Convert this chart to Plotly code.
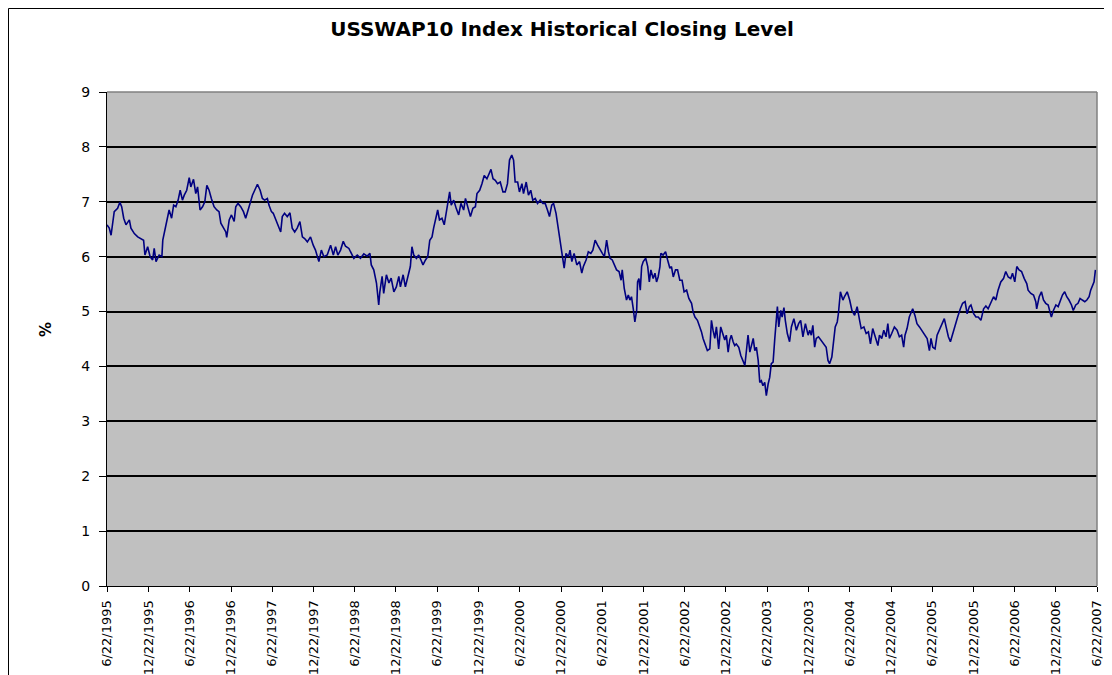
import plotly.graph_objects as go

chart_title = "USSWAP10 Index Historical Closing Level"
y_title = "%"

dates = [
    "1995-06-22", "1995-07-02", "1995-07-10", "1995-07-17", "1995-07-24", "1995-08-08", "1995-08-18", "1995-08-26",
    "1995-09-04", "1995-09-14", "1995-09-29", "1995-10-06", "1995-10-21", "1995-11-05", "1995-11-19", "1995-12-01",
    "1995-12-07", "1995-12-19", "1995-12-30", "1996-01-10", "1996-01-17", "1996-01-25", "1996-02-08", "1996-02-20",
    "1996-02-24", "1996-03-06", "1996-03-16", "1996-03-23", "1996-04-03", "1996-04-12", "1996-04-22", "1996-05-02",
    "1996-05-11", "1996-05-21", "1996-05-29", "1996-06-09", "1996-06-20", "1996-06-27", "1996-07-09", "1996-07-19",
    "1996-07-27", "1996-08-03", "1996-08-07", "1996-08-18", "1996-08-28", "1996-09-06", "1996-09-16", "1996-09-26",
    "1996-10-08", "1996-10-20", "1996-10-30", "1996-11-07", "1996-11-18", "1996-11-29", "1996-12-03", "1996-12-14",
    "1996-12-24", "1997-01-05", "1997-01-12", "1997-01-22", "1997-02-03", "1997-02-15", "1997-02-25", "1997-03-05",
    "1997-03-16", "1997-03-27", "1997-04-06", "1997-04-18", "1997-04-30", "1997-05-10", "1997-05-20", "1997-06-01",
    "1997-06-08", "1997-06-19", "1997-06-27", "1997-07-08", "1997-07-18", "1997-07-30", "1997-08-06", "1997-08-16",
    "1997-08-28", "1997-09-09", "1997-09-19", "1997-09-30", "1997-10-11", "1997-10-23", "1997-11-03", "1997-11-13",
    "1997-11-25", "1997-12-09", "1997-12-21", "1997-12-31", "1998-01-15", "1998-01-26", "1998-02-06", "1998-02-21",
    "1998-03-08", "1998-03-20", "1998-03-30", "1998-04-09", "1998-04-21", "1998-05-03", "1998-05-13", "1998-05-28",
    "1998-06-04", "1998-06-19", "1998-07-04", "1998-07-18", "1998-08-02", "1998-08-17", "1998-08-29", "1998-09-04",
    "1998-09-15", "1998-09-27", "1998-10-07", "1998-10-12", "1998-10-22", "1998-10-29", "1998-11-10", "1998-11-21",
    "1998-12-01", "1998-12-13", "1998-12-24", "1999-01-04", "1999-01-11", "1999-01-23", "1999-02-02", "1999-02-12",
    "1999-02-24", "1999-03-03", "1999-03-11", "1999-03-23", "1999-04-02", "1999-04-12", "1999-04-21", "1999-05-02",
    "1999-05-12", "1999-05-21", "1999-05-31", "1999-06-07", "1999-06-16", "1999-06-25", "1999-07-03", "1999-07-14",
    "1999-07-24", "1999-08-05", "1999-08-17", "1999-08-24", "1999-09-04", "1999-09-15", "1999-09-26", "1999-10-06",
    "1999-10-18", "1999-10-26", "1999-11-05", "1999-11-17", "1999-11-28", "1999-12-09", "1999-12-16", "1999-12-28",
    "2000-01-07", "2000-01-17", "2000-01-29", "2000-02-10", "2000-02-16", "2000-02-25", "2000-03-06", "2000-03-16",
    "2000-03-28", "2000-04-09", "2000-04-19", "2000-04-29", "2000-05-08", "2000-05-18", "2000-05-26", "2000-06-02",
    "2000-06-13", "2000-06-21", "2000-07-02", "2000-07-09", "2000-07-21", "2000-07-31", "2000-08-10", "2000-08-19",
    "2000-08-30", "2000-09-09", "2000-09-21", "2000-10-03", "2000-10-13", "2000-10-23", "2000-11-01", "2000-11-11",
    "2000-11-19", "2000-11-30", "2000-12-06", "2000-12-15", "2000-12-25", "2001-01-05", "2001-01-13", "2001-01-24",
    "2001-01-31", "2001-02-08", "2001-02-18", "2001-03-02", "2001-03-14", "2001-03-24", "2001-03-31", "2001-04-12",
    "2001-04-22", "2001-05-03", "2001-05-12", "2001-05-22",
    "2001-06-02", "2001-06-13", "2001-06-23", "2001-07-02", "2001-07-12", "2001-07-20", "2001-07-27", "2001-08-06",
    "2001-08-15", "2001-08-25", "2001-09-05", "2001-09-14", "2001-09-19", "2001-09-28", "2001-10-08", "2001-10-16",
    "2001-10-23", "2001-10-30", "2001-11-07", "2001-11-14", "2001-11-22", "2001-11-26", "2001-12-02", "2001-12-08",
    "2001-12-14", "2001-12-21", "2002-01-01", "2002-01-10", "2002-01-17", "2002-01-24", "2002-02-03", "2002-02-11",
    "2002-02-18", "2002-02-25", "2002-03-05", "2002-03-09", "2002-03-19", "2002-03-30", "2002-04-08", "2002-04-18",
    "2002-04-25", "2002-05-03", "2002-05-13", "2002-05-22", "2002-06-01", "2002-06-11", "2002-06-20", "2002-07-01",
    "2002-07-11", "2002-07-23", "2002-07-30", "2002-08-07", "2002-08-18", "2002-08-29", "2002-09-05", "2002-09-12",
    "2002-09-23", "2002-10-01", "2002-10-12", "2002-10-19", "2002-10-26", "2002-11-03", "2002-11-10", "2002-11-20",
    "2002-11-29", "2002-12-10", "2002-12-17", "2002-12-24", "2003-01-01", "2003-01-08", "2003-01-15", "2003-01-23",
    "2003-01-30", "2003-02-06", "2003-02-17", "2003-02-26", "2003-03-08", "2003-03-16", "2003-03-23", "2003-03-30",
    "2003-04-07", "2003-04-14", "2003-04-22", "2003-04-29", "2003-05-06", "2003-05-14", "2003-05-21", "2003-05-28",
    "2003-06-04", "2003-06-12", "2003-06-19", "2003-06-27", "2003-07-04", "2003-07-11", "2003-07-19", "2003-07-26",
    "2003-08-02", "2003-08-07", "2003-08-13", "2003-08-22", "2003-08-28", "2003-09-05", "2003-09-11", "2003-09-20",
    "2003-09-30", "2003-10-08", "2003-10-19", "2003-10-30", "2003-11-09", "2003-11-18", "2003-11-28", "2003-12-09",
    "2003-12-21", "2003-12-28", "2004-01-04", "2004-01-11", "2004-01-19", "2004-01-26", "2004-02-05", "2004-02-17",
    "2004-02-29", "2004-03-10", "2004-03-18", "2004-03-25", "2004-04-04", "2004-04-13", "2004-04-19", "2004-04-28",
    "2004-05-03", "2004-05-12", "2004-05-23",
    "2004-05-30", "2004-06-11", "2004-06-22", "2004-07-02", "2004-07-14", "2004-07-25", "2004-08-05", "2004-08-12",
    "2004-08-24", "2004-09-03", "2004-09-13", "2004-09-22", "2004-10-02", "2004-10-13", "2004-10-25", "2004-11-01",
    "2004-11-11", "2004-11-20", "2004-11-30", "2004-12-08", "2004-12-15", "2004-12-25", "2005-01-06", "2005-01-18",
    "2005-01-28", "2005-02-07", "2005-02-16", "2005-02-22", "2005-03-03", "2005-03-13", "2005-03-28", "2005-04-07",
    "2005-04-16", "2005-04-27", "2005-05-07", "2005-05-19", "2005-05-31", "2005-06-10", "2005-06-17", "2005-06-25",
    "2005-07-05", "2005-07-14", "2005-07-24", "2005-08-03", "2005-08-15", "2005-08-23", "2005-09-02", "2005-09-11",
    "2005-09-21", "2005-10-02", "2005-10-13", "2005-10-25", "2005-11-04", "2005-11-15", "2005-11-24", "2005-12-04",
    "2005-12-11", "2005-12-23", "2006-01-02", "2006-01-12", "2006-01-24", "2006-02-05", "2006-02-15", "2006-02-25",
    "2006-03-09", "2006-03-21", "2006-03-31", "2006-04-10", "2006-04-22", "2006-05-04", "2006-05-14", "2006-05-25",
    "2006-06-05", "2006-06-13", "2006-06-23", "2006-07-02", "2006-07-12", "2006-07-23", "2006-08-04", "2006-08-15",
    "2006-08-21", "2006-09-02", "2006-09-14", "2006-09-24", "2006-09-28", "2006-10-09", "2006-10-19", "2006-10-28",
    "2006-11-07", "2006-11-18", "2006-11-26", "2006-12-02", "2006-12-11", "2006-12-22", "2007-01-01", "2007-01-10",
    "2007-01-20", "2007-01-30", "2007-02-08", "2007-02-18", "2007-03-01", "2007-03-09", "2007-03-20", "2007-03-30",
    "2007-04-08", "2007-04-18", "2007-04-29", "2007-05-08", "2007-05-18", "2007-05-25", "2007-06-02", "2007-06-09",
    "2007-06-15",
]

rates = [
    6.58, 6.52, 6.39, 6.67, 6.82, 6.88, 6.99, 6.91,
    6.70, 6.58, 6.67, 6.52, 6.42, 6.36, 6.33, 6.30,
    6.03, 6.18, 6.00, 5.94, 6.15, 5.91, 6.03, 6.00,
    6.30, 6.52, 6.67, 6.85, 6.70, 6.94, 6.91, 7.03,
    7.21, 7.03, 7.12, 7.21, 7.44, 7.27, 7.41, 7.15,
    7.27, 7.06, 6.85, 6.91, 7.00, 7.30, 7.21, 7.06,
    6.91, 6.85, 6.82, 6.61, 6.52, 6.45, 6.35, 6.67,
    6.76, 6.64, 6.91, 6.97, 6.91, 6.82, 6.70, 6.82,
    7.00, 7.12, 7.21, 7.32, 7.21, 7.06, 7.03, 7.06,
    6.94, 6.82, 6.79, 6.67, 6.58, 6.45, 6.73, 6.79,
    6.73, 6.80, 6.52, 6.45, 6.52, 6.64, 6.36, 6.33,
    6.27, 6.36, 6.21, 6.12, 5.91, 6.12, 6.00, 6.03,
    6.21, 6.03, 6.18, 6.03, 6.12, 6.28, 6.19, 6.15,
    6.09, 5.97, 6.03, 5.97, 6.05, 6.01, 6.06, 5.85,
    5.76, 5.52, 5.12, 5.36, 5.64, 5.33, 5.67, 5.52,
    5.61, 5.36, 5.45, 5.64, 5.45, 5.67, 5.45, 5.61,
    5.82, 6.18, 6.03, 5.97, 6.03, 5.94, 5.85, 5.94,
    6.00, 6.30, 6.36, 6.52, 6.67, 6.85, 6.67, 6.70,
    6.58, 6.91, 7.18, 6.94, 7.03, 6.88, 6.76, 6.97,
    6.85, 7.06, 6.91, 6.73, 6.88, 6.91, 7.15, 7.21,
    7.33, 7.48, 7.42, 7.52, 7.59, 7.42, 7.39, 7.33,
    7.36, 7.18, 7.18, 7.33, 7.76, 7.85, 7.76, 7.36,
    7.36, 7.18, 7.33, 7.15, 7.36, 7.12, 7.21, 7.03,
    7.06, 6.97, 7.03, 6.97, 6.97, 6.85, 6.73, 6.94,
    6.97, 6.79, 6.61, 6.33, 6.12, 5.79, 6.06, 6.00,
    6.12, 5.91, 6.06, 5.85, 5.91, 5.70, 5.82, 5.94,
    6.09, 6.06, 6.12, 6.30,
    6.21, 6.12, 6.06, 6.00, 6.30, 6.09, 5.97, 5.94,
    5.85, 5.76, 5.73, 5.57, 5.76, 5.42, 5.21, 5.30,
    5.21, 5.27, 5.05, 4.81, 5.02, 5.54, 5.60, 5.39,
    5.82, 5.91, 5.97, 5.82, 5.54, 5.76, 5.60, 5.70,
    5.54, 5.63, 5.82, 6.06, 6.03, 6.09, 5.94, 5.79,
    5.82, 5.63, 5.76, 5.76, 5.57, 5.57, 5.36, 5.39,
    5.24, 5.15, 4.99, 4.90, 4.84, 4.72, 4.63, 4.51,
    4.38, 4.29, 4.32, 4.84, 4.66, 4.51, 4.72, 4.32,
    4.72, 4.54, 4.48, 4.57, 4.26, 4.48, 4.57, 4.45,
    4.38, 4.41, 4.35, 4.20, 4.08, 4.02, 4.29, 4.57,
    4.26, 4.41, 4.51, 4.29, 4.35, 4.11, 3.71, 3.74,
    3.65, 3.71, 3.47, 3.68, 3.80, 4.05, 4.08, 4.48,
    4.93, 5.09, 4.72, 5.02, 4.90, 5.07, 4.84, 4.60,
    4.45, 4.72, 4.87, 4.66, 4.78, 4.84, 4.54, 4.78,
    4.57, 4.66, 4.57, 4.75, 4.35, 4.51, 4.54, 4.48,
    4.41, 4.35, 4.11, 4.05, 4.17, 4.57, 4.72, 4.81,
    4.96, 5.36, 5.21,
    5.27, 5.36, 5.21, 5.02, 4.93, 5.09, 4.84, 4.69,
    4.72, 4.60, 4.63, 4.41, 4.69, 4.54, 4.38, 4.57,
    4.51, 4.66, 4.54, 4.78, 4.51, 4.60, 4.72, 4.66,
    4.54, 4.57, 4.35, 4.57, 4.69, 4.90, 5.05, 4.93,
    4.78, 4.72, 4.66, 4.57, 4.51, 4.29, 4.51, 4.35,
    4.32, 4.57, 4.66, 4.75, 4.87, 4.72, 4.54, 4.45,
    4.60, 4.72, 4.90, 5.05, 5.15, 5.18, 4.96, 5.09,
    5.12, 4.96, 4.90, 4.90, 4.84, 5.05, 5.10, 5.05,
    5.15, 5.27, 5.21, 5.39, 5.54, 5.60, 5.73, 5.63,
    5.60, 5.70, 5.54, 5.82, 5.76, 5.73, 5.60, 5.51,
    5.39, 5.33, 5.30, 5.18, 5.05, 5.27, 5.36, 5.21,
    5.15, 5.12, 4.99, 4.90, 5.02, 5.12, 5.09, 5.18,
    5.30, 5.36, 5.27, 5.21, 5.12, 5.02, 5.12, 5.15,
    5.24, 5.21, 5.18, 5.21, 5.27, 5.39, 5.48, 5.54,
    5.76,
]

tick_dates = [
    "1995-06-22", "1995-12-22", "1996-06-22", "1996-12-22", "1997-06-22", "1997-12-22",
    "1998-06-22", "1998-12-22", "1999-06-22", "1999-12-22", "2000-06-22", "2000-12-22",
    "2001-06-22", "2001-12-22", "2002-06-22", "2002-12-22", "2003-06-22", "2003-12-22",
    "2004-06-22", "2004-12-22", "2005-06-22", "2005-12-22", "2006-06-22", "2006-12-22",
    "2007-06-22",
]
tick_labels = [
    "6/22/1995", "12/22/1995", "6/22/1996", "12/22/1996", "6/22/1997", "12/22/1997",
    "6/22/1998", "12/22/1998", "6/22/1999", "12/22/1999", "6/22/2000", "12/22/2000",
    "6/22/2001", "12/22/2001", "6/22/2002", "12/22/2002", "6/22/2003", "12/22/2003",
    "6/22/2004", "12/22/2004", "6/22/2005", "12/22/2005", "6/22/2006", "12/22/2006",
    "6/22/2007",
]

FONT = "DejaVu Sans"
OFF = 8  # page body margin: figure is drawn at (8, 8) in the page
W, H = 1112 - OFF, 675 - OFF
# desired page positions of the plot area: x 107..1097, y 92..586
L = 107 - OFF
R = W - (1097 - OFF)
T = 92 - OFF
B = H - (586 - OFF)
pw, ph = W - L - R, H - T - B


def px(page_x):
    return (page_x - OFF - L) / pw


def py(page_y):
    return (H - B - (page_y - OFF)) / ph


fig = go.Figure()
fig.add_trace(go.Scatter(
    x=dates, y=rates, mode="lines",
    line=dict(color="#000080", width=1.6),
    showlegend=False, hoverinfo="x+y",
))

fig.update_layout(
    width=W, height=H,
    margin=dict(l=L, r=R, t=T, b=B),
    paper_bgcolor="white",
    plot_bgcolor="#C0C0C0",
    showlegend=False,
    title=dict(
        text="<b>" + chart_title + "</b>",
        x=(562 - OFF) / W, xref="container", xanchor="center",
        y=1 - (29 - OFF) / H, yref="container", yanchor="middle",
        font=dict(family=FONT, size=20, color="black"),
    ),
)

fig.update_xaxes(
    type="date",
    range=[tick_dates[0], tick_dates[-1]],
    tickmode="array", tickvals=tick_dates, ticktext=tick_labels,
    tickangle=-90,
    ticks="outside", ticklen=5, tickcolor="black", tickwidth=1,
    ticklabelstandoff=3,
    showline=True, linecolor="black", linewidth=1,
    showgrid=False, zeroline=False,
    tickfont=dict(family=FONT, size=13, color="black"),
    automargin=False,
)

fig.update_yaxes(
    range=[0, 9], tick0=0, dtick=1,
    ticks="outside", ticklen=7, tickcolor="black", tickwidth=1,
    ticklabelstandoff=6,
    showline=True, linecolor="black", linewidth=1,
    showgrid=True, gridcolor="black", gridwidth=1.5,
    zeroline=False,
    tickfont=dict(family=FONT, size=14, color="black"),
    automargin=False,
)

# plot area border (top and right edges, grey)
fig.add_shape(type="line", xref="paper", yref="paper", x0=0, x1=1, y0=1, y1=1,
              line=dict(color="#808080", width=1.5), layer="above")
fig.add_shape(type="line", xref="paper", yref="paper", x0=1, x1=1, y0=0, y1=1,
              line=dict(color="#808080", width=1.5), layer="above")

# outer chart border
fig.add_shape(type="rect", xref="paper", yref="paper",
              x0=px(8.5), x1=px(1109), y0=py(700), y1=py(8.5),
              line=dict(color="black", width=1), fillcolor="rgba(0,0,0,0)", layer="above")

# y-axis title
fig.add_annotation(
    text="<b>" + y_title + "</b>", textangle=-90,
    xref="paper", yref="paper",
    x=px(46), y=py(330),
    xanchor="center", yanchor="middle", showarrow=False,
    font=dict(family=FONT, size=15, color="black"),
)

fig.write_html("out.html")
